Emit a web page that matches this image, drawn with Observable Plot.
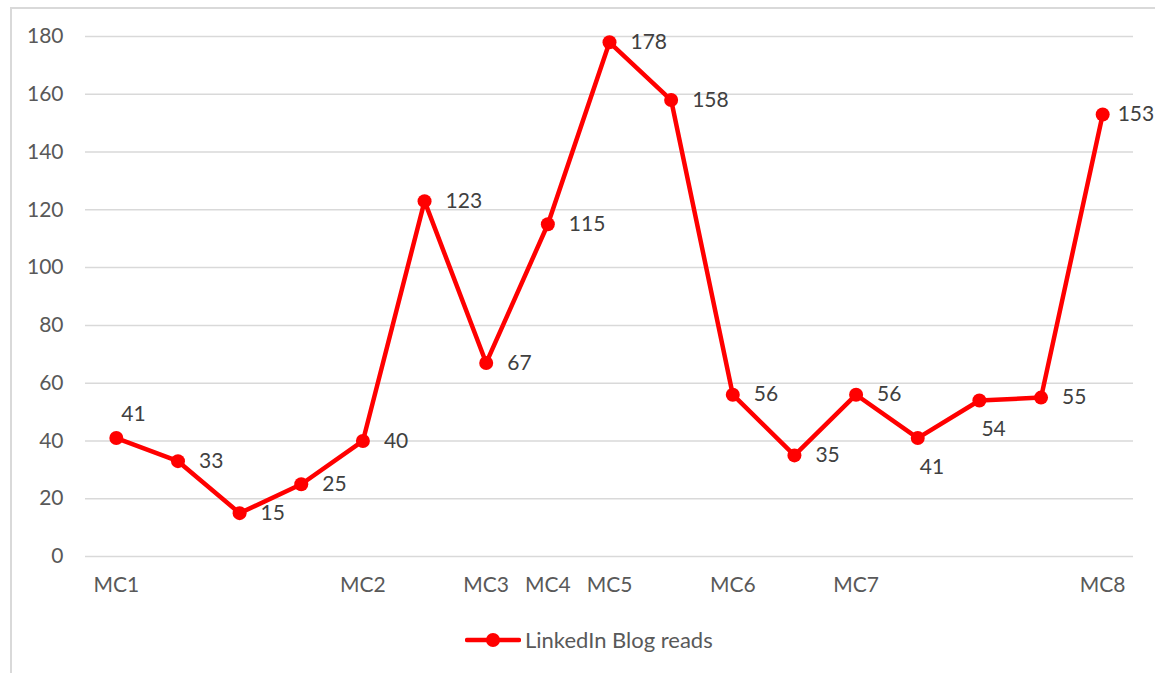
<!DOCTYPE html>
<html>
<head>
<meta charset="utf-8">
<script src="https://cdn.jsdelivr.net/npm/d3@7"></script>
<script src="https://cdn.jsdelivr.net/npm/@observablehq/plot@0.6"></script>
<style>
  html, body { margin: 0; padding: 0; background: #fff; overflow: hidden; }
  #frame { position: absolute; left: 10px; top: 7px; width: 1170px; height: 700px; border: 2px solid #d9d9d9; box-sizing: border-box; }
  #chart { position: absolute; left: 0; top: 0; }
  #legend { position: absolute; left: 465px; top: 626px; font-family: Lato, sans-serif; font-size: 22px; color: #595959; display: flex; align-items: center; }
  #legend svg { margin-right: 4px; }
</style>
</head>
<body>
<div id="frame"></div>
<div id="chart"></div>
<div id="legend"><svg width="56" height="20"><line x1="2" y1="10" x2="54" y2="10" stroke="#ff0000" stroke-width="4.5" stroke-linecap="round"/><circle cx="28" cy="10" r="7" fill="#ff0000"/></svg><span>LinkedIn Blog reads</span></div>
<script>
const categories = ["MC1", "", "", "", "MC2", "", "MC3", "MC4", "MC5", "", "MC6", "", "MC7", "", "", "", "MC8"];
const reads = [41, 33, 15, 25, 40, 123, 67, 115, 178, 158, 56, 35, 56, 41, 54, 55, 153];
const yTicks = [0, 20, 40, 60, 80, 100, 120, 140, 160, 180];
const seriesName = "LinkedIn Blog reads";

const data = reads.map((v, i) => ({i, v, label: categories[i]}));
const aboveIdx = new Set([0]);
const belowIdx = new Set([13, 14]);
const tightIdx = new Set([16]);
const isRight = d => !aboveIdx.has(d.i) && !belowIdx.has(d.i) && !tightIdx.has(d.i);

const plot = Plot.plot({
  width: 1155,
  height: 610,
  marginLeft: 85,
  marginRight: 22,
  marginTop: 36,
  marginBottom: 54,
  style: {fontFamily: "Lato, sans-serif", fontSize: "21px", color: "#595959", background: "transparent", overflow: "visible"},
  x: {type: "point", domain: d3.range(categories.length), padding: 0.5, round: false, label: null},
  y: {domain: [0, 180], label: null},
  marks: [
    Plot.ruleY(yTicks, {stroke: "#d9d9d9", strokeWidth: 1.5}),
    Plot.axisY({ticks: yTicks, tickSize: 0, tickPadding: 22, label: null, fontSize: 21}),
    Plot.axisX({tickSize: 0, tickPadding: 21, tickFormat: i => categories[i], label: null, fontSize: 21}),
    Plot.line(data, {x: "i", y: "v", stroke: "#ff0000", strokeWidth: 4.5, strokeLinejoin: "round"}),
    Plot.dot(data, {x: "i", y: "v", r: 7, fill: "#ff0000"}),
    Plot.text(data.filter(isRight), {x: "i", y: "v", text: d => String(d.v), textAnchor: "start", dx: 21, fill: "#404040", fontSize: 21}),
    Plot.text(data.filter(d => tightIdx.has(d.i)), {x: "i", y: "v", text: d => String(d.v), textAnchor: "start", dx: 15, fill: "#404040", fontSize: 21}),
    Plot.text(data.filter(d => aboveIdx.has(d.i)), {x: "i", y: "v", text: d => String(d.v), textAnchor: "start", dx: 5, dy: -24, fill: "#404040", fontSize: 21}),
    Plot.text(data.filter(d => belowIdx.has(d.i)), {x: "i", y: "v", text: d => String(d.v), textAnchor: "start", dx: 2, dy: 29, fill: "#404040", fontSize: 21})
  ]
});
document.getElementById("chart").appendChild(plot);
</script>
</body>
</html>
